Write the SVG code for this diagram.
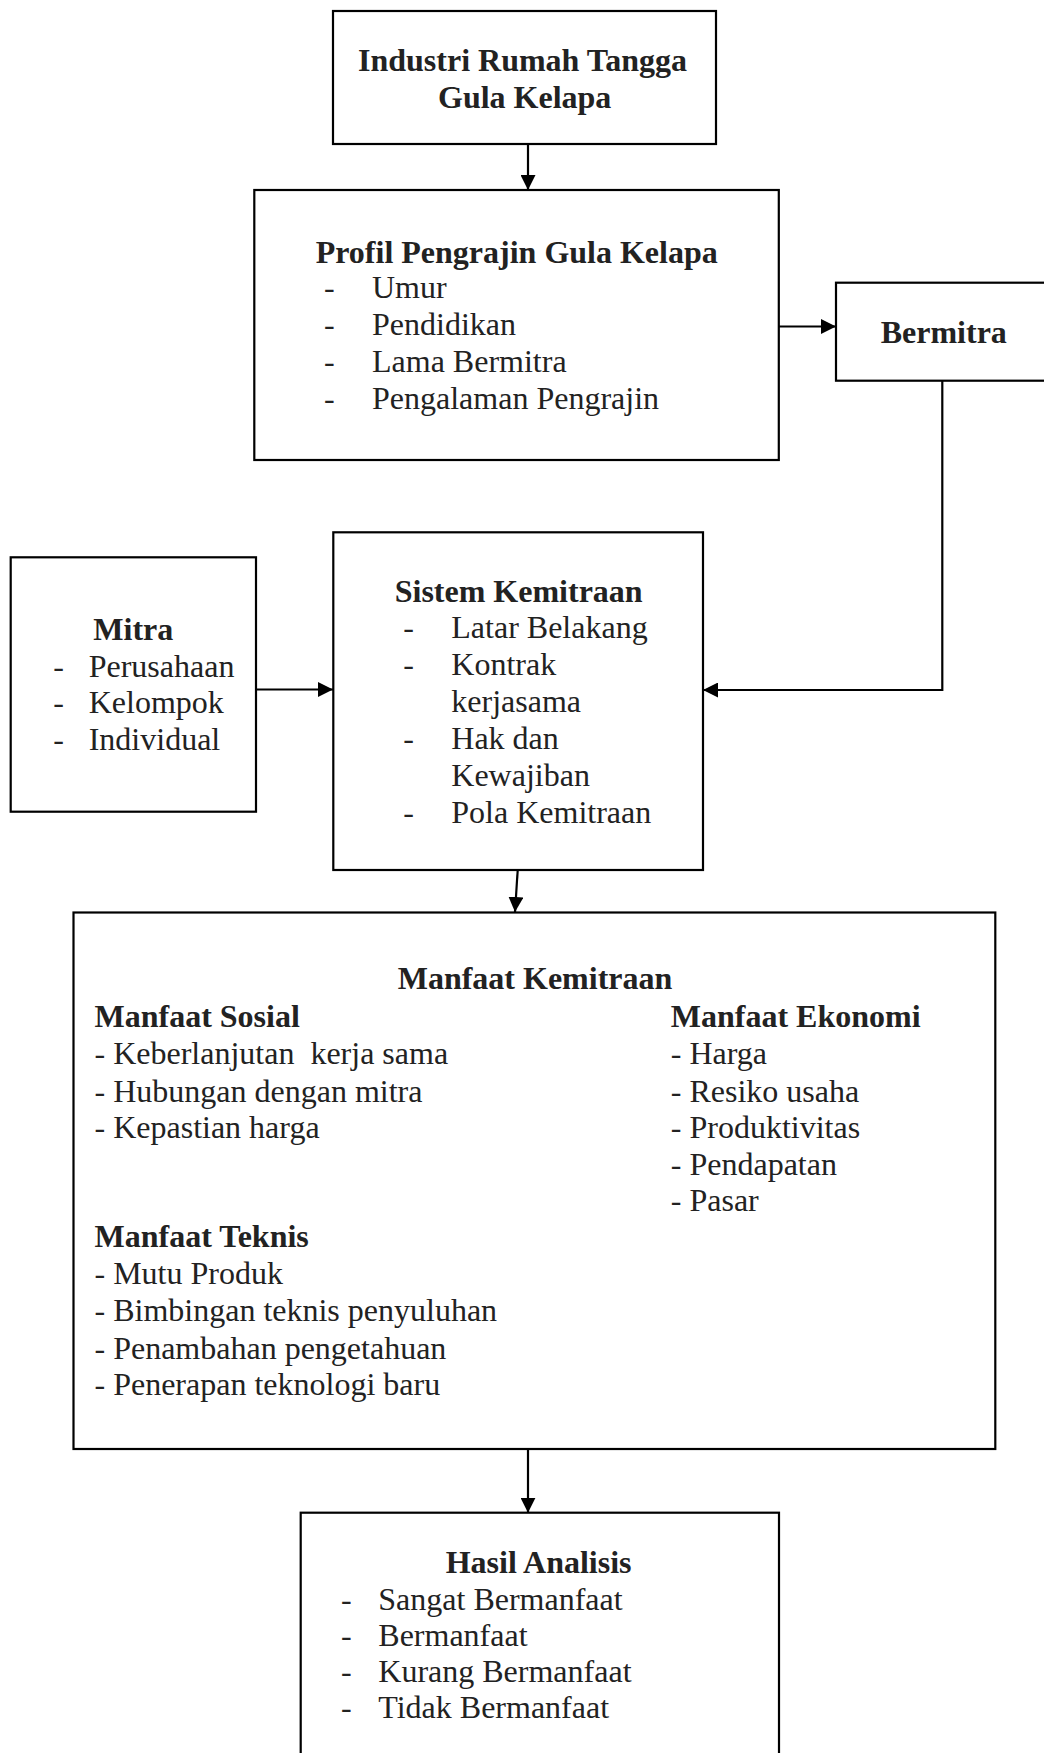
<svg xmlns="http://www.w3.org/2000/svg" width="1044" height="1753" viewBox="0 0 1044 1753">
<defs>
<marker id="arr" viewBox="0 0 15 15" refX="15" refY="7.5" markerWidth="15" markerHeight="15" markerUnits="userSpaceOnUse" orient="auto">
<path d="M0,0 L15,7.5 L0,15 Z" fill="#000"/>
</marker>
<style>
.box{fill:#fff;stroke:#000;stroke-width:2.2}
.t{font-family:"Liberation Serif","Times New Roman",serif;font-size:32px;fill:#222}
.b{font-weight:bold}
.c{fill:none;stroke:#000;stroke-width:2.2}
</style>
</defs>
<rect width="1044" height="1753" fill="#fff"/>
<g id="connectors">
<line class="c" x1="528" y1="144" x2="528" y2="190" marker-end="url(#arr)"/>
<line class="c" x1="779" y1="326.5" x2="836" y2="326.5" marker-end="url(#arr)"/>
<path class="c" d="M942.3,380.7 V690 H703" marker-end="url(#arr)"/>
<line class="c" x1="256" y1="689.5" x2="333" y2="689.5" marker-end="url(#arr)"/>
<line class="c" x1="517.7" y1="870" x2="515" y2="912" marker-end="url(#arr)"/>
<line class="c" x1="528" y1="1449" x2="528" y2="1512.7" marker-end="url(#arr)"/>
</g>
<g id="industri">
<rect class="box" x="333" y="11" width="383" height="133"/>
<text class="t b" x="358" y="71">Industri Rumah Tangga</text>
<text class="t b" x="438" y="108">Gula Kelapa</text>
</g>
<g id="profil">
<rect class="box" x="254.3" y="190" width="524.5" height="270"/>
<text class="t b" x="315.7" y="263">Profil Pengrajin Gula Kelapa</text>
<text class="t" x="324" y="298">-</text><text class="t" x="372" y="298">Umur</text>
<text class="t" x="324" y="335">-</text><text class="t" x="372" y="335">Pendidikan</text>
<text class="t" x="324" y="372">-</text><text class="t" x="372" y="372">Lama Bermitra</text>
<text class="t" x="324" y="408.5">-</text><text class="t" x="372" y="408.5">Pengalaman Pengrajin</text>
</g>
<g id="bermitra">
<rect class="box" x="836" y="282.7" width="220" height="98"/>
<text class="t b" x="880.7" y="342.7">Bermitra</text>
</g>
<g id="mitra">
<rect class="box" x="10.7" y="557.3" width="245.3" height="254.4"/>
<text class="t b" x="93.3" y="640">Mitra</text>
<text class="t" x="53.3" y="676.7">-</text><text class="t" x="88.7" y="676.7">Perusahaan</text>
<text class="t" x="53.3" y="713.3">-</text><text class="t" x="88.7" y="713.3">Kelompok</text>
<text class="t" x="53.3" y="750">-</text><text class="t" x="88.7" y="750">Individual</text>
</g>
<g id="sistem">
<rect class="box" x="333.3" y="532.3" width="369.7" height="337.7"/>
<text class="t b" x="394.7" y="601.7">Sistem Kemitraan</text>
<text class="t" x="403.3" y="638.3">-</text><text class="t" x="451.3" y="638.3">Latar Belakang</text>
<text class="t" x="403.3" y="675">-</text><text class="t" x="451.3" y="675">Kontrak</text>
<text class="t" x="451.3" y="711.7">kerjasama</text>
<text class="t" x="403.3" y="749.3">-</text><text class="t" x="451.3" y="749.3">Hak dan</text>
<text class="t" x="451.3" y="785.7">Kewajiban</text>
<text class="t" x="403.3" y="822.7">-</text><text class="t" x="451.3" y="822.7">Pola Kemitraan</text>
</g>
<g id="manfaat">
<rect class="box" x="73.5" y="912.5" width="921.8" height="536.5"/>
<text class="t b" x="397.7" y="989.3">Manfaat Kemitraan</text>
<text class="t b" x="94.5" y="1026.8">Manfaat Sosial</text>
<text class="t" x="94.5" y="1064.3" xml:space="preserve">- Keberlanjutan  kerja sama</text>
<text class="t" x="94.5" y="1101.5">- Hubungan dengan mitra</text>
<text class="t" x="94.5" y="1138">- Kepastian harga</text>
<text class="t b" x="670.8" y="1026.8">Manfaat Ekonomi</text>
<text class="t" x="670.8" y="1064.3">- Harga</text>
<text class="t" x="670.8" y="1101.5">- Resiko usaha</text>
<text class="t" x="670.8" y="1138">- Produktivitas</text>
<text class="t" x="670.8" y="1175">- Pendapatan</text>
<text class="t" x="670.8" y="1211">- Pasar</text>
<text class="t b" x="94.5" y="1246.5">Manfaat Teknis</text>
<text class="t" x="94.5" y="1284">- Mutu Produk</text>
<text class="t" x="94.5" y="1321">- Bimbingan teknis penyuluhan</text>
<text class="t" x="94.5" y="1358.5">- Penambahan pengetahuan</text>
<text class="t" x="94.5" y="1394.7">- Penerapan teknologi baru</text>
</g>
<g id="hasil">
<rect class="box" x="300.7" y="1512.7" width="478.3" height="260"/>
<text class="t b" x="445.7" y="1573.3">Hasil Analisis</text>
<text class="t" x="341" y="1610">-</text><text class="t" x="378.3" y="1610">Sangat Bermanfaat</text>
<text class="t" x="341" y="1646">-</text><text class="t" x="378.3" y="1646">Bermanfaat</text>
<text class="t" x="341" y="1682.3">-</text><text class="t" x="378.3" y="1682.3">Kurang Bermanfaat</text>
<text class="t" x="341" y="1718.3">-</text><text class="t" x="378.3" y="1718.3">Tidak Bermanfaat</text>
</g>
</svg>
